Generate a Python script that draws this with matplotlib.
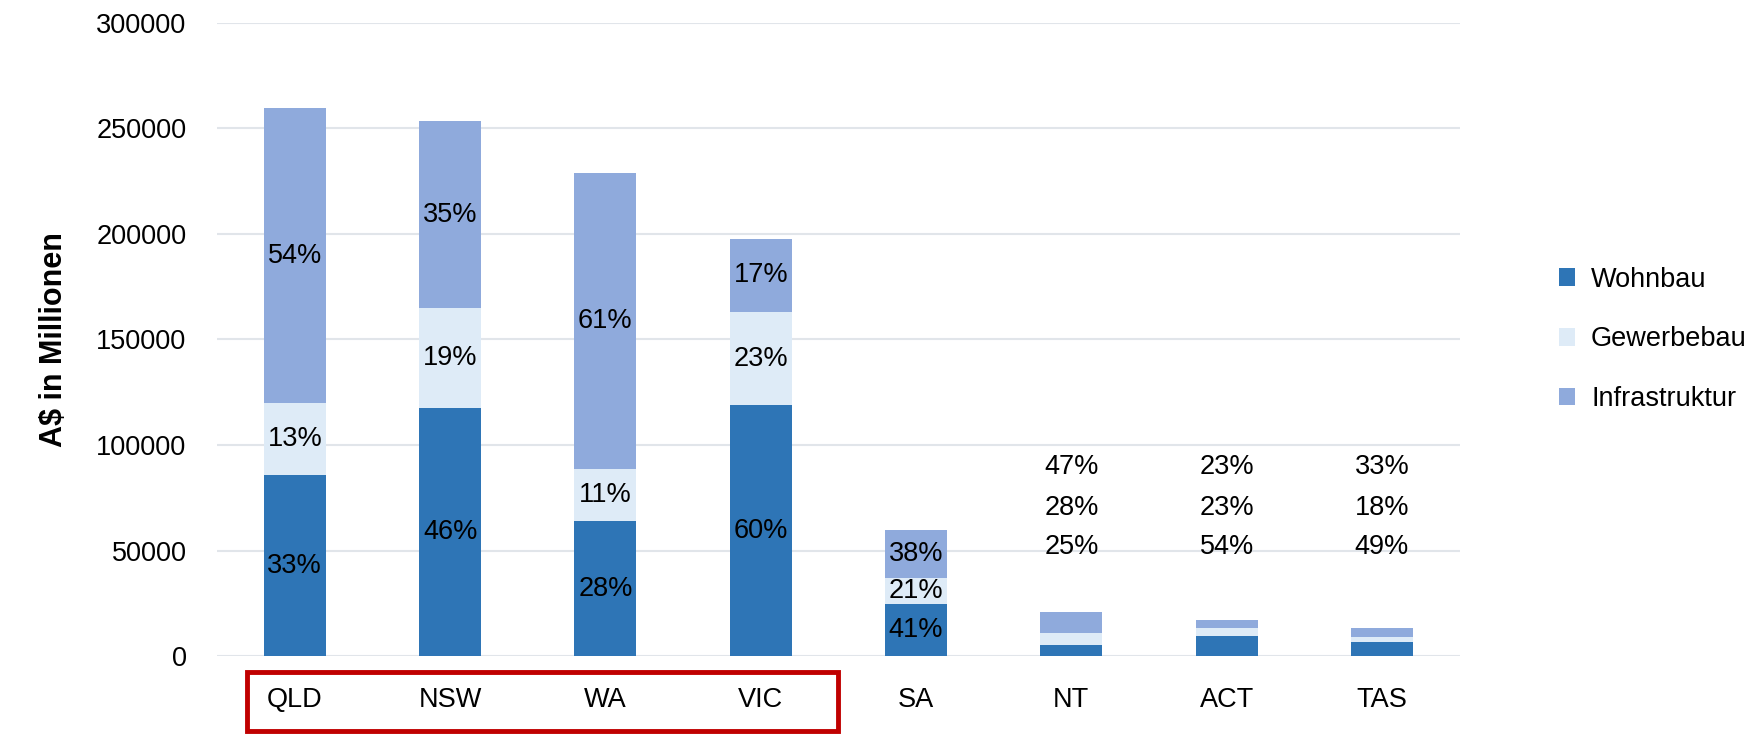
import matplotlib.pyplot as plt
import numpy as np
from matplotlib.patches import Rectangle
import matplotlib.transforms as mtransforms

plt.rcParams['font.family'] = ['Liberation Sans', 'DejaVu Sans']

# data (A$ Mio)
states = ['QLD', 'NSW', 'WA', 'VIC', 'SA', 'NT', 'ACT', 'TAS']
wohnbau = [85800, 117700, 64000, 118800, 24500, 5200, 9500, 6800]
gewerbebau = [34100, 47000, 24500, 44200, 12300, 5800, 3900, 2100]
infrastruktur = [139600, 88900, 140500, 34700, 22900, 10000, 3900, 4400]
pct_w = ['33%', '46%', '28%', '60%', '41%', '25%', '54%', '49%']
pct_g = ['13%', '19%', '11%', '23%', '21%', '28%', '23%', '18%']
pct_i = ['54%', '35%', '61%', '17%', '38%', '47%', '23%', '33%']
series = ['Wohnbau', 'Gewerbebau', 'Infrastruktur']
colors = ['#2E75B6', '#DEEBF7', '#8FAADC']

fig = plt.figure(figsize=(17.65, 7.34), dpi=100)
ax = fig.add_axes([0.123, 0.106, 0.704, 0.863])

x = np.arange(len(states))
w = np.array(wohnbau)
g = np.array(gewerbebau)
i = np.array(infrastruktur)
width = 0.4
ax.bar(x, w, width, color=colors[0], label=series[0], zorder=3)
ax.bar(x, g, width, bottom=w, color=colors[1], label=series[1], zorder=3)
ax.bar(x, i, width, bottom=w + g, color=colors[2], label=series[2], zorder=3)

fs = 19.5
for k in range(len(states)):
    if w[k] + g[k] + i[k] > 40000:
        ax.text(x[k], w[k] / 2, pct_w[k], ha='center', va='center', fontsize=fs, zorder=4)
        ax.text(x[k], w[k] + g[k] / 2, pct_g[k], ha='center', va='center', fontsize=fs, zorder=4)
        ax.text(x[k], w[k] + g[k] + i[k] / 2, pct_i[k], ha='center', va='center', fontsize=fs, zorder=4)
    else:
        # small bars: labels stacked above
        ax.text(x[k], 51500, pct_w[k], ha='center', va='center', fontsize=fs)
        ax.text(x[k], 70000, pct_g[k], ha='center', va='center', fontsize=fs)
        ax.text(x[k], 89500, pct_i[k], ha='center', va='center', fontsize=fs)

ax.set_xlim(-0.5, len(states) - 0.5)
ax.set_ylim(0, 300000)
ax.set_yticks(np.arange(0, 300001, 50000))
ax.set_xticks(x)
ax.set_xticklabels(states, fontsize=fs)
ax.tick_params(axis='y', labelsize=fs, length=0, pad=22)
ax.tick_params(axis='x', length=0, pad=22)
ax.grid(axis='y', color='#E1E5EA', linewidth=1.5, zorder=0)
for s in ax.spines.values():
    s.set_visible(False)
ax.set_ylabel('A$ in Millionen', fontsize=22, fontweight='bold', labelpad=20)

ax.legend(loc='center left', bbox_to_anchor=(1.06, 0.5), frameon=False,
          fontsize=fs, handlelength=0.6, handleheight=0.6, labelspacing=1.25,
          handletextpad=0.6)

# red frame around the first four states
trans = mtransforms.blended_transform_factory(ax.transData, fig.transFigure)
ax.add_patch(Rectangle((-0.305, 0.004), 3.805, 0.08, transform=trans,
                       fill=False, edgecolor='#C00000', linewidth=3.5, clip_on=False))

fig.savefig('out.png', dpi=100)
